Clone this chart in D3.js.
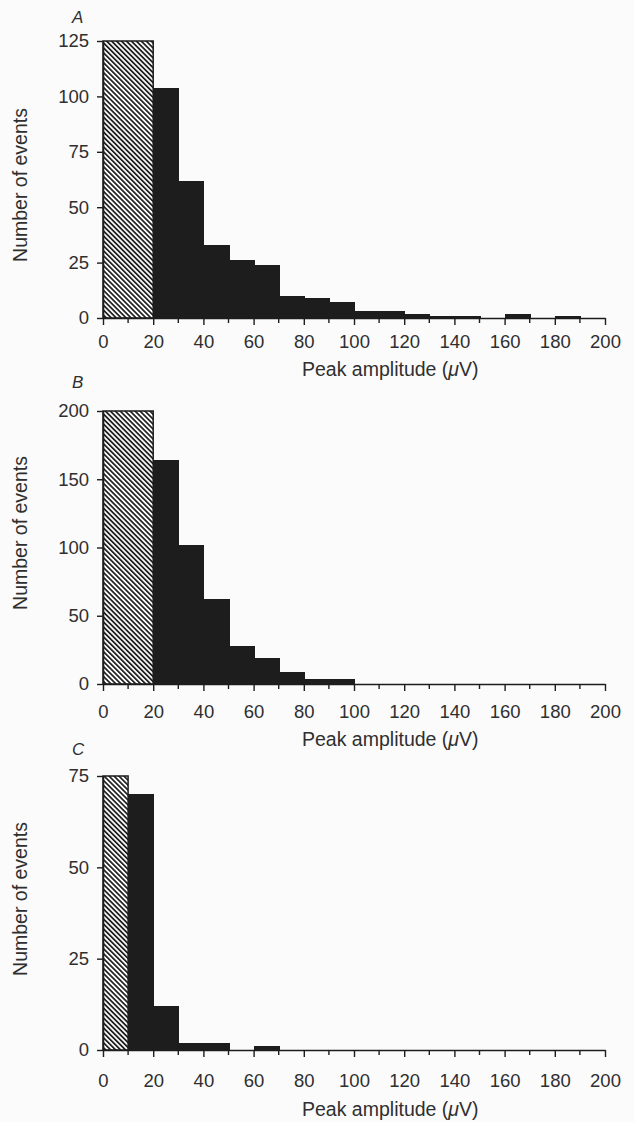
<!DOCTYPE html>
<html>
<head>
<meta charset="utf-8">
<script src="https://cdn.jsdelivr.net/npm/d3@7"></script>
<style>
  html, body { margin: 0; padding: 0; background: #fbfbfb; }
  svg { display: block; }
  text { font-family: "Liberation Sans", Arial, Helvetica, sans-serif; fill: #2f2f2f; }
</style>
</head>
<body>
<svg id="chart" width="634" height="1122"></svg>
<script>
// Peak-amplitude histograms of spontaneous events, 10 uV bins.

const panelLabels = ["A", "B", "C"];
const binWidth = 10;

// Hatched bin below detection threshold: upper edge and count (runs to the top of the scale)
const hatchEdges  = [20, 20, 10];
const hatchCounts = [125, 200, 75];

// Solid bins: lower edges and counts
const binsA   = [20, 30, 40, 50, 60, 70, 80, 90, 100, 110, 120, 130, 140, 150, 160, 170, 180, 190];
const countsA = [104, 62, 33, 26, 24, 10, 9, 7, 3, 3, 2, 1, 1, 0, 2, 0, 1, 0];

const binsB   = [20, 30, 40, 50, 60, 70, 80, 90, 100, 110, 120, 130, 140, 150, 160, 170, 180, 190];
const countsB = [164, 102, 62, 28, 19, 9, 4, 4, 0, 0, 0, 0, 0, 0, 0, 0, 0, 0];

const binsC   = [10, 20, 30, 40, 50, 60, 70, 80, 90, 100, 110, 120, 130, 140, 150, 160, 170, 180, 190];
const countsC = [70, 12, 2, 2, 0, 1, 0, 0, 0, 0, 0, 0, 0, 0, 0, 0, 0, 0, 0];

// Axis ticks
const xMajorTicks = [0, 20, 40, 60, 80, 100, 120, 140, 160, 180, 200];
const xMinorTicks = [10, 30, 50, 70, 90, 110, 130, 150, 170, 190];
const yTicksA = [0, 25, 50, 75, 100, 125];
const yTicksB = [0, 50, 100, 150, 200];
const yTicksC = [0, 25, 50, 75];

const xTitle = "Peak amplitude (";
const yTitle = "Number of events";

const panels = [
  { label: panelLabels[0], bins: binsA, counts: countsA, hatchEnd: hatchEdges[0], hatchN: hatchCounts[0], yTicks: yTicksA },
  { label: panelLabels[1], bins: binsB, counts: countsB, hatchEnd: hatchEdges[1], hatchN: hatchCounts[1], yTicks: yTicksB },
  { label: panelLabels[2], bins: binsC, counts: countsC, hatchEnd: hatchEdges[2], hatchN: hatchCounts[2], yTicks: yTicksC }
];

// Vertical layout of each panel (pixel geometry)
const layout = [
  { top: 41,  bottom: 318,  labelY: 23,  yTitleMid: 185, tickPad: 10, titleOff: 58 },
  { top: 411, bottom: 684,  labelY: 388, yTitleMid: 533, tickPad: 14, titleOff: 62 },
  { top: 776, bottom: 1050, labelY: 755, yTitleMid: 899, tickPad: 17, titleOff: 66 }
];

const ink = "#1d1d1d";
const svg = d3.select("#chart");

// Diagonal hatching for the sub-threshold bin
const defs = svg.append("defs");
defs.append("pattern")
  .attr("id", "hatch")
  .attr("patternUnits", "userSpaceOnUse")
  .attr("width", 3.5)
  .attr("height", 10)
  .attr("patternTransform", "rotate(-45)")
  .append("rect")
    .attr("x", 0).attr("y", 0)
    .attr("width", 1.7).attr("height", 10)
    .attr("fill", ink);

const x = d3.scaleLinear().domain([0, 200]).range([103, 605]);

panels.forEach((p, i) => {
  const L = layout[i];
  const yMax = p.yTicks[p.yTicks.length - 1];
  const y = d3.scaleLinear().domain([0, yMax]).range([L.bottom, L.top]);
  const g = svg.append("g");

  // Solid bins
  g.append("g")
    .attr("shape-rendering", "crispEdges")
    .selectAll("rect")
    .data(p.bins.map((b, k) => ({ x0: b, n: p.counts[k] })))
    .join("rect")
      .attr("x", d => x(d.x0))
      .attr("y", d => y(d.n))
      .attr("width", x(binWidth) - x(0) + 1)
      .attr("height", d => y(0) - y(d.n))
      .attr("fill", ink);

  // Hatched bin
  g.append("rect")
    .attr("x", x(0))
    .attr("y", y(p.hatchN))
    .attr("width", x(p.hatchEnd) - x(0))
    .attr("height", y(0) - y(p.hatchN))
    .attr("fill", "url(#hatch)")
    .attr("stroke", ink)
    .attr("stroke-width", 1.5);

  // x axis
  const xa = g.append("g")
    .attr("transform", `translate(0,${y(0)})`)
    .call(d3.axisBottom(x).tickValues(xMajorTicks).tickSize(7).tickSizeOuter(0).tickPadding(L.tickPad));
  g.append("g")
    .attr("transform", `translate(0,${y(0)})`)
    .selectAll("line")
    .data(xMinorTicks)
    .join("line")
      .attr("x1", d => x(d)).attr("x2", d => x(d))
      .attr("y1", 0).attr("y2", 5)
      .attr("stroke", ink).attr("stroke-width", 1.4);

  // y axis
  const ya = g.append("g")
    .attr("transform", `translate(${x(0)},0)`)
    .call(d3.axisLeft(y).tickValues(p.yTicks).tickSize(6).tickSizeOuter(0).tickPadding(8));

  [xa, ya].forEach(a => {
    a.select(".domain").attr("stroke", ink).attr("stroke-width", 1.6);
    a.selectAll(".tick line").attr("stroke", ink).attr("stroke-width", 1.4);
    a.selectAll(".tick text")
      .attr("font-size", "18.5px")
      .attr("font-family", "Liberation Sans, Arial, sans-serif")
      .attr("fill", "#2f2f2f");
  });

  // Panel letter
  g.append("text")
    .attr("x", 72).attr("y", L.labelY)
    .attr("font-size", "17px")
    .attr("font-style", "italic")
    .text(p.label);

  // Axis titles
  const xt = g.append("text")
    .attr("x", 302).attr("y", y(0) + L.titleOff)
    .attr("font-size", "19.5px");
  xt.append("tspan").text(xTitle);
  xt.append("tspan").attr("font-style", "italic").text("\u03BC");
  xt.append("tspan").text("V)");

  g.append("text")
    .attr("transform", `translate(27,${L.yTitleMid}) rotate(-90)`)
    .attr("text-anchor", "middle")
    .attr("font-size", "19.5px")
    .text(yTitle);
});
</script>
</body>
</html>
